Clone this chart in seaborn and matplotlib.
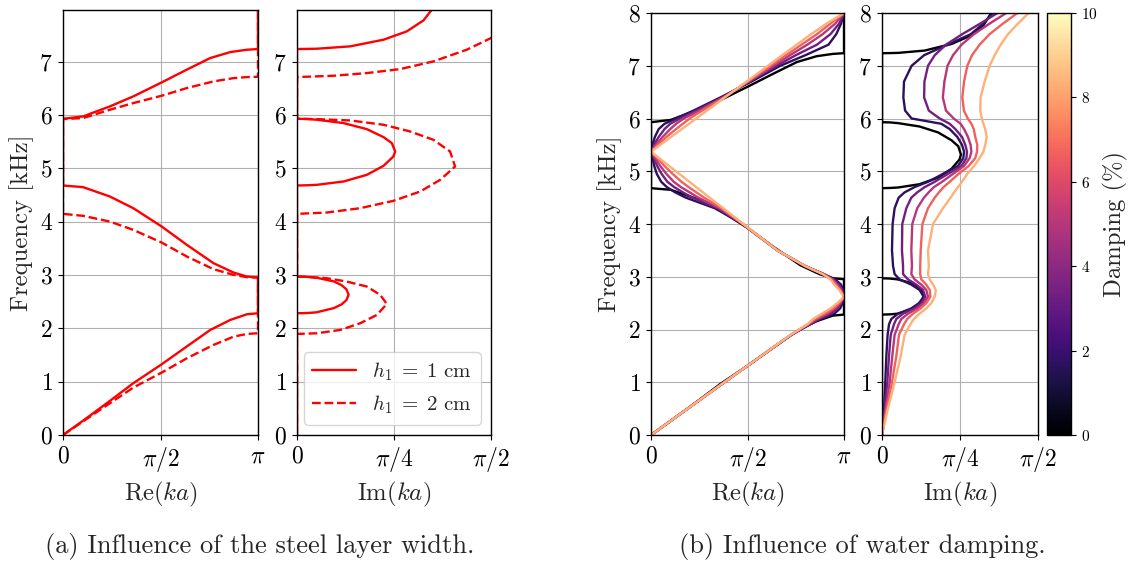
import numpy as np
import matplotlib
matplotlib.use("Agg")
import matplotlib.pyplot as plt
import matplotlib as mpl
import seaborn as sns
from matplotlib.lines import Line2D

# ---------------- data ----------------
# Panel (a): steel layer width. Re(ka) in units of pi, Im(ka) in units of pi/2
h1_labels = [r"$h_1 \;=\; 1$ cm", r"$h_1 \;=\; 2$ cm"]

re_solid_f = [0, 0.269, 0.638, 0.97, 1.326, 1.658, 1.97, 2.158, 2.264, 2.283,
              2.953, 2.971, 3.046, 3.222, 3.566, 3.91, 4.254, 4.473, 4.648, 4.679,
              5.93, 5.974, 6.162, 6.349, 6.612, 6.85, 7.069, 7.181, 7.225, 7.238, 8.0]
re_solid_v = [0, 0.103, 0.24, 0.36, 0.506, 0.634, 0.755, 0.858, 0.943, 1.0,
              1.0, 0.943, 0.875, 0.772, 0.635, 0.506, 0.36, 0.24, 0.103, 0.0,
              0.0, 0.103, 0.24, 0.36, 0.506, 0.634, 0.755, 0.858, 0.943, 1.0, 1.0]

im_solid_f = [0, 2.283, 2.287, 2.30, 2.38, 2.45, 2.53, 2.63, 2.73, 2.81, 2.88, 2.95, 2.966, 2.971,
              4.679, 4.683, 4.692, 4.754, 4.879, 5.048, 5.223, 5.317, 5.473, 5.586, 5.736, 5.849,
              5.912, 5.926, 5.93, 7.238, 7.240, 7.244, 7.288, 7.413, 7.569, 7.775, 7.976, 8.0]
im_solid_v = [0, 0, 0.05, 0.10, 0.19, 0.23, 0.255, 0.266, 0.255, 0.23, 0.19, 0.10, 0.05, 0,
              0, 0.05, 0.103, 0.24, 0.36, 0.446, 0.497, 0.506, 0.489, 0.446, 0.36, 0.24,
              0.103, 0.05, 0, 0, 0.05, 0.103, 0.274, 0.446, 0.566, 0.652, 0.695, 0.70]

re_dash_f = [0, 0.469, 0.888, 1.17, 1.439, 1.689, 1.845, 1.895, 1.908,
             2.953, 2.959, 3.003, 3.109, 3.347, 3.609, 3.847, 4.003, 4.11, 4.147,
             5.924, 5.943, 6.099, 6.224, 6.362, 6.506, 6.631, 6.693, 6.712, 6.718, 8.0]
re_dash_v = [0, 0.189, 0.36, 0.506, 0.635, 0.772, 0.875, 0.943, 1.0,
             1.0, 0.943, 0.875, 0.772, 0.635, 0.506, 0.36, 0.24, 0.103, 0.0,
             0.0, 0.103, 0.24, 0.36, 0.506, 0.635, 0.772, 0.875, 0.943, 1.0, 1.0]

im_dash_f = [0, 1.895, 1.908, 1.97, 2.096, 2.252, 2.458, 2.627, 2.784, 2.877, 2.94, 2.965, 2.971,
             4.147, 4.172, 4.254, 4.391, 4.566, 4.785, 5.035, 5.317, 5.536, 5.692, 5.818, 5.899,
             5.924, 5.93, 6.712, 6.737, 6.787, 6.862, 7.006, 7.225, 7.444, 7.7]
im_dash_v = [0, 0, 0.103, 0.223, 0.326, 0.412, 0.463, 0.429, 0.36, 0.257, 0.154, 0.051, 0,
             0, 0.154, 0.326, 0.497, 0.635, 0.738, 0.815, 0.789, 0.703, 0.583, 0.446, 0.274,
             0.103, 0, 0, 0.189, 0.36, 0.532, 0.703, 0.875, 1.0, 1.12]

# Panel (b): water damping (%), common frequency grid [kHz]
damping = [1.67, 3.33, 5.0, 6.67, 8.33]
freq = [0, 0.5, 1.0, 1.5, 1.9, 2.1, 2.2, 2.3, 2.4, 2.5, 2.62, 2.75, 2.85, 2.95, 3.05, 3.2,
        3.5, 4.0, 4.3, 4.5, 4.6, 4.7, 4.8, 4.95, 5.1, 5.25, 5.37, 5.5, 5.65, 5.8, 5.9, 6.0,
        6.15, 6.4, 6.7, 7.0, 7.2, 7.4, 7.6, 7.8, 8.0]

re_d1 = [0, 0.19, 0.38, 0.572, 0.728, 0.825, 0.88, 0.95, 0.98, 0.993, 1.0, 0.995, 0.985, 0.955,
         0.895, 0.80, 0.655, 0.475, 0.33, 0.18, 0.125, 0.082, 0.053, 0.03, 0.017, 0.008, 0.0,
         0.008, 0.02, 0.04, 0.07, 0.13, 0.22, 0.36, 0.52, 0.67, 0.8, 0.92, 0.96, 0.985, 1.0]
re_d2 = [0, 0.19, 0.38, 0.572, 0.727, 0.822, 0.87, 0.93, 0.965, 0.985, 1.0, 0.99, 0.975, 0.945,
         0.895, 0.80, 0.655, 0.475, 0.345, 0.215, 0.165, 0.12, 0.085, 0.055, 0.032, 0.015, 0.0,
         0.015, 0.04, 0.07, 0.1, 0.15, 0.235, 0.37, 0.51, 0.65, 0.75, 0.86, 0.93, 0.975, 1.0]
re_d3 = [0, 0.19, 0.38, 0.572, 0.726, 0.818, 0.86, 0.915, 0.955, 0.98, 1.0, 0.985, 0.965, 0.94,
         0.895, 0.80, 0.655, 0.475, 0.355, 0.245, 0.2, 0.155, 0.118, 0.08, 0.048, 0.022, 0.0,
         0.025, 0.06, 0.1, 0.13, 0.17, 0.25, 0.375, 0.505, 0.635, 0.72, 0.81, 0.89, 0.955, 1.0]
re_d4 = [0, 0.19, 0.38, 0.572, 0.725, 0.814, 0.85, 0.9, 0.945, 0.975, 1.0, 0.98, 0.958, 0.935,
         0.89, 0.80, 0.655, 0.476, 0.365, 0.275, 0.235, 0.195, 0.158, 0.112, 0.07, 0.032, 0.0,
         0.035, 0.08, 0.13, 0.165, 0.2, 0.265, 0.38, 0.5, 0.62, 0.7, 0.78, 0.86, 0.93, 1.0]
re_d5 = [0, 0.19, 0.38, 0.572, 0.724, 0.81, 0.84, 0.885, 0.93, 0.965, 1.0, 0.975, 0.95, 0.93,
         0.89, 0.80, 0.655, 0.478, 0.374, 0.304, 0.269, 0.234, 0.199, 0.147, 0.094, 0.042, 0.0,
         0.048, 0.104, 0.16, 0.197, 0.234, 0.29, 0.383, 0.495, 0.606, 0.68, 0.755, 0.83, 0.91, 1.0]

im_d1 = [0, 0.013, 0.021, 0.028, 0.036, 0.045, 0.06, 0.103, 0.188, 0.237, 0.267, 0.241, 0.188,
         0.113, 0.081, 0.071, 0.064, 0.068, 0.081, 0.107, 0.145, 0.209, 0.295, 0.391, 0.487,
         0.521, 0.526, 0.513, 0.483, 0.434, 0.38, 0.19, 0.148, 0.137, 0.141, 0.19, 0.27, 0.42,
         0.57, 0.65, 0.71]
im_d2 = [0, 0.017, 0.034, 0.045, 0.056, 0.077, 0.092, 0.135, 0.209, 0.252, 0.278, 0.263, 0.22,
         0.167, 0.135, 0.135, 0.128, 0.13, 0.156, 0.188, 0.226, 0.274, 0.338, 0.423, 0.509,
         0.541, 0.545, 0.534, 0.513, 0.47, 0.434, 0.37, 0.30, 0.27, 0.272, 0.295, 0.338, 0.41,
         0.515, 0.63, 0.74]
im_d3 = [0, 0.024, 0.049, 0.066, 0.081, 0.107, 0.124, 0.167, 0.226, 0.267, 0.295, 0.284, 0.252,
         0.209, 0.188, 0.192, 0.188, 0.194, 0.226, 0.269, 0.299, 0.333, 0.385, 0.455, 0.526,
         0.562, 0.573, 0.568, 0.551, 0.526, 0.504, 0.46, 0.41, 0.39, 0.40, 0.42, 0.455, 0.51,
         0.59, 0.69, 0.797]
im_d4 = [0, 0.03, 0.064, 0.092, 0.109, 0.141, 0.162, 0.199, 0.248, 0.284, 0.31, 0.306, 0.284,
         0.252, 0.245, 0.245, 0.248, 0.259, 0.295, 0.338, 0.365, 0.395, 0.434, 0.491, 0.556,
         0.598, 0.609, 0.611, 0.598, 0.588, 0.573, 0.55, 0.525, 0.515, 0.526, 0.547, 0.577,
         0.626, 0.69, 0.776, 0.868]
im_d5 = [0, 0.038, 0.081, 0.12, 0.145, 0.182, 0.205, 0.241, 0.284, 0.316, 0.338, 0.345, 0.327,
         0.306, 0.295, 0.30, 0.295, 0.327, 0.391, 0.44, 0.462, 0.487, 0.513, 0.547, 0.59,
         0.626, 0.65, 0.662, 0.671, 0.662, 0.65, 0.64, 0.63, 0.632, 0.658, 0.69, 0.722, 0.761,
         0.808, 0.872, 0.94]

re_damped = [re_d1, re_d2, re_d3, re_d4, re_d5]
im_damped = [im_d1, im_d2, im_d3, im_d4, im_d5]

captions = ["(a) Influence of the steel layer width.", "(b) Influence of water damping."]

# ---------------- style ----------------
sns.set_theme(style="ticks")
plt.rcParams.update({
    "font.family": "serif",
    "font.serif": ["cmr10"],
    "mathtext.fontset": "cm",
    "axes.formatter.use_mathtext": True,
    "axes.unicode_minus": False,
    "axes.edgecolor": "black",
    "axes.linewidth": 1.0,
    "xtick.color": "black",
    "ytick.color": "black",
    "xtick.major.size": 3.5,
    "ytick.major.size": 3.5,
    "xtick.major.width": 0.8,
    "ytick.major.width": 0.8,
    "grid.color": "#b0b0b0",
    "grid.linewidth": 0.8,
})

FS_TICK = 17
FS_LABEL = 17.8
FS_CAP = 19
W, H = 1135, 561
fig = plt.figure(figsize=(W / 100, H / 100), dpi=100)

def rect(x0, x1, y0, y1):
    return [x0 / W, 1 - y1 / H, (x1 - x0) / W, (y1 - y0) / H]

ax1 = fig.add_axes(rect(63, 258, 10, 435))
ax2 = fig.add_axes(rect(297, 491, 10, 435))
ax3 = fig.add_axes(rect(651, 844, 13, 435))
ax4 = fig.add_axes(rect(882, 1038, 13, 435))
cax = fig.add_axes(rect(1047, 1071, 13, 435))

LW = 1.7
PI = np.pi

def curve(ax, vals, f, scale, **kw):
    sns.lineplot(x=np.asarray(vals) * scale, y=np.asarray(f), sort=False,
                 estimator=None, ax=ax, lw=LW, **kw)

# panel (a)
curve(ax1, re_solid_v, re_solid_f, PI, color="red")
curve(ax1, re_dash_v, re_dash_f, PI, color="red", linestyle="--")
curve(ax2, im_solid_v, im_solid_f, PI / 2, color="red")
curve(ax2, im_dash_v, im_dash_f, PI / 2, color="red", linestyle="--")

# panel (b)
cmap = mpl.colormaps["magma"]
norm = mpl.colors.Normalize(0, 10)
curve(ax3, re_solid_v, re_solid_f, PI, color="black")
curve(ax4, im_solid_v, im_solid_f, PI / 2, color="black")
for d, rv, iv in zip(damping, re_damped, im_damped):
    c = cmap(norm(d))
    curve(ax3, rv, freq, PI, color=c)
    curve(ax4, iv, freq, PI / 2, color=c)

for ax, xmax, ymax in [(ax1, PI, 7.97), (ax2, PI / 2, 7.97), (ax3, PI, 8), (ax4, PI / 2, 8)]:
    ax.set_xlim(0, xmax)
    ax.set_ylim(0, ymax)
    ax.grid(True)
    ax.set_axisbelow(True)
    ax.tick_params(labelsize=FS_TICK, pad=4)
    ax.set_ylabel("")
    for s in ax.spines.values():
        s.set_visible(True)
        s.set_color("black")

for ax in (ax1, ax3):
    ax.set_xticks([0, PI / 2, PI])
    ax.set_xticklabels([r"$0$", r"$\pi/2$", r"$\pi$"])
    ax.set_xlabel(r"$\mathrm{Re}(ka)$", fontsize=FS_LABEL)
    ax.set_ylabel("Frequency [kHz]", fontsize=FS_LABEL)
for ax in (ax2, ax4):
    ax.set_xticks([0, PI / 4, PI / 2])
    ax.set_xticklabels([r"$0$", r"$\pi/4$", r"$\pi/2$"])
    ax.set_xlabel(r"$\mathrm{Im}(ka)$", fontsize=FS_LABEL)
for ax in (ax1, ax2):
    ax.set_yticks(range(0, 8))
    ax.set_yticklabels([rf"${v}$" for v in range(0, 8)])
for ax in (ax3, ax4):
    ax.set_yticks(range(0, 9))
    ax.set_yticklabels([rf"${v}$" for v in range(0, 9)])

handles = [Line2D([], [], color="red", lw=LW),
           Line2D([], [], color="red", lw=LW, linestyle="--")]
ax2.legend(handles=handles, labels=h1_labels, loc="lower right", fontsize=15,
           handlelength=2.1, framealpha=0.8, edgecolor="#cccccc", fancybox=True,
           borderaxespad=0.5)
for ax in (ax1, ax3, ax4):
    lg = ax.get_legend()
    if lg is not None:
        lg.remove()

sm = mpl.cm.ScalarMappable(norm=norm, cmap=cmap)
cb = fig.colorbar(sm, cax=cax)
cb.set_ticks([0, 2, 4, 6, 8, 10])
cb.set_ticklabels([rf"${v}$" for v in [0, 2, 4, 6, 8, 10]])
cb.ax.tick_params(labelsize=11)
cb.set_label("Damping (%)", fontsize=FS_LABEL)
cb.outline.set_edgecolor("black")

fig.text(260 / W, 1 - 547 / H, captions[0], ha="center", va="center", fontsize=FS_CAP)
fig.text(862 / W, 1 - 547 / H, captions[1], ha="center", va="center", fontsize=FS_CAP)

fig.savefig("out.png", dpi=100)
